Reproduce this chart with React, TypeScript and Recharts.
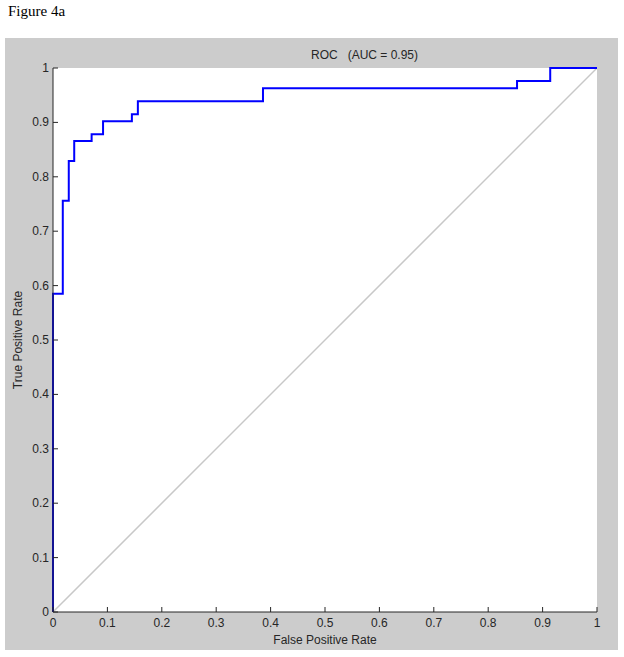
import { LineChart, Line, XAxis, YAxis, ReferenceLine } from 'recharts'

// ROC curve points (stepAfter draws the staircase)
const fpr = [0, 0, 0.018, 0.029, 0.039, 0.071, 0.092, 0.145, 0.156, 0.386, 0.853, 0.914, 1]
const tpr = [0, 0.585, 0.756, 0.829, 0.866, 0.878, 0.902, 0.915, 0.939, 0.963, 0.976, 1, 1]
const ticks = [0, 0.1, 0.2, 0.3, 0.4, 0.5, 0.6, 0.7, 0.8, 0.9, 1]

const rocData = fpr.map((x, i) => ({ fpr: x, tpr: tpr[i] }))

const font = '"Liberation Sans", Arial, sans-serif'
const fmt = (v: number) => (v === 0 || v === 1 ? String(v) : v.toFixed(1))

function XTick({ x, y, payload }: any) {
  return (
    <g>
      <line x1={x} y1={y} x2={x} y2={y - 5} stroke="#262626" />
      <text x={x} y={y + 15} textAnchor="middle" fontSize={12} fontFamily={font} fill="#262626">
        {fmt(payload.value)}
      </text>
    </g>
  )
}

function YTick({ x, y, payload }: any) {
  return (
    <g>
      <line x1={x} y1={y} x2={x + 5} y2={y} stroke="#262626" />
      <text x={x - 4} y={y + 4} textAnchor="end" fontSize={12} fontFamily={font} fill="#262626">
        {fmt(payload.value)}
      </text>
    </g>
  )
}

export default function App() {
  return (
    <div style={{ position: 'absolute', left: 0, top: 0, width: 624, height: 657, background: '#fff' }}>
      <div style={{ position: 'absolute', left: 8, top: 3, fontSize: 15, fontFamily: '"Liberation Serif", serif' }}>
        Figure 4a
      </div>
      <div style={{ position: 'absolute', left: 5, top: 38, width: 613, height: 612, background: '#cccccc' }} />
      <div
        style={{
          position: 'absolute', left: 5, top: 48, width: 613, textAlign: 'center',
          paddingLeft: 106, boxSizing: 'border-box', fontSize: 12, fontFamily: font,
          color: '#262626', whiteSpace: 'pre',
        }}
      >
        {'ROC   (AUC = 0.95)'}
      </div>
      <div style={{ position: 'absolute', left: 5, top: 38 }}>
        <LineChart width={613} height={612} data={rocData} margin={{ top: 30, right: 21, bottom: 6, left: 8 }}>
          <rect x={48} y={30} width={544} height={544} fill="#fff" />
          <XAxis
            type="number"
            dataKey="fpr"
            domain={[0, 1]}
            ticks={ticks}
            height={32}
            tickSize={0}
            tickMargin={0}
            tick={<XTick />}
            tickLine={false}
            axisLine={{ stroke: '#262626' }}
            label={{ value: 'False Positive Rate', position: 'insideBottom', offset: 0, fontSize: 12, fontFamily: font, fill: '#262626' }}
          />
          <YAxis
            type="number"
            domain={[0, 1]}
            ticks={ticks}
            width={40}
            tickSize={0}
            tickMargin={0}
            tick={<YTick />}
            tickLine={false}
            axisLine={{ stroke: '#262626' }}
            label={{ value: 'True Positive Rate', angle: -90, position: 'insideLeft', offset: 5, fontSize: 12, fontFamily: font, fill: '#262626', style: { textAnchor: 'middle' } }}
          />
          <ReferenceLine segment={[{ x: 0, y: 0 }, { x: 1, y: 1 }]} stroke="#c8c8c8" strokeWidth={1.5} />
          <Line type="stepAfter" dataKey="tpr" stroke="#0000ff" strokeWidth={2} dot={false} isAnimationActive={false} />
        </LineChart>
      </div>
    </div>
  )
}
